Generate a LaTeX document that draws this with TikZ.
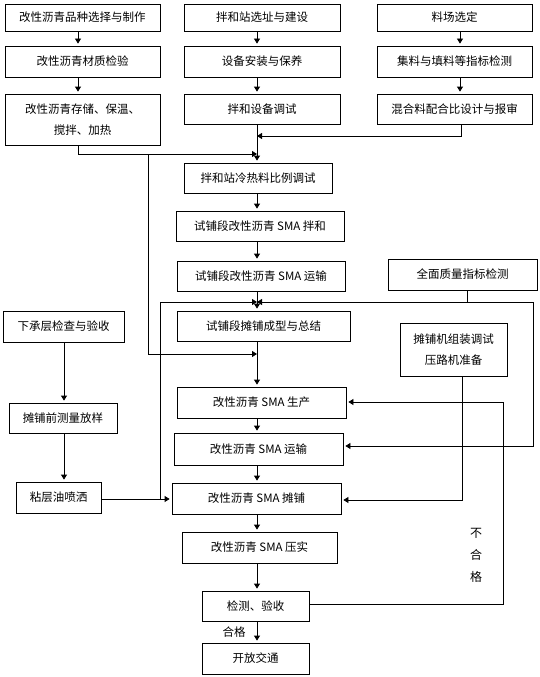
\documentclass[tikz,border=0pt]{standalone}
\usepackage{fontspec}
\newfontfamily\cjk{Noto Sans CJK SC}
\usetikzlibrary{arrows.meta}
\tikzset{
  x=1pt, y=-1pt,
  box/.style={draw, line width=0.8pt, inner sep=0pt, align=center,
    font=\cjk\fontsize{11.5}{21}\selectfont},
  lbl/.style={inner sep=0pt, align=center, font=\cjk\fontsize{11.5}{21}\selectfont},
  ln/.style={line width=0.8pt},
  arr/.style={line width=0.8pt, -{Triangle[length=5pt,width=6pt]}, shorten >=2pt},
  jarr/.style={line width=0.8pt, -{Triangle[length=5pt,width=6pt]}},
}
\newcommand\mybox[6]{\node[box, minimum width={(#4-#2)*1pt}, minimum height={(#5-#3)*1pt}] (#1) at ({(#2+#4)/2},{(#3+#5)/2}) {#6};}
\begin{document}
\begin{tikzpicture}
\useasboundingbox[fill=white] (0,0) rectangle (540,677);
% top rows
\mybox{A1}{5}{4}{160}{31}{改性沥青品种选择与制作}
\mybox{A2}{5}{46}{160}{77}{改性沥青材质检验}
\mybox{A3}{5}{94}{160}{145}{改性沥青存储、保温、\\搅拌、加热}
\mybox{B1}{184}{4}{340}{31}{拌和站选址与建设}
\mybox{B2}{184}{46}{340}{77}{设备安装与保养}
\mybox{B3}{184}{94}{340}{124}{拌和设备调试}
\mybox{C1}{377}{4}{532}{31}{料场选定}
\mybox{C2}{377}{46}{532}{77}{集料与填料等指标检测}
\mybox{C3}{377}{94}{532}{124}{混合料配合比设计与报审}
% trial section
\mybox{D1}{184}{163}{332}{193}{拌和站冷热料比例调试}
\mybox{D2}{176}{211}{344}{241}{试铺段改性沥青 SMA 拌和}
\mybox{D3}{177}{261}{345}{291}{试铺段改性沥青 SMA 运输}
\mybox{D4}{177}{311}{350}{341}{试铺段摊铺成型与总结}
\mybox{Q}{388}{259}{537}{290}{全面质量指标检测}
\mybox{P}{400}{323}{507}{376}{摊铺机组装调试\\压路机准备}
% left column
\mybox{L1}{3}{311}{124}{342}{下承层检查与验收}
\mybox{L2}{9}{403}{117}{433}{摊铺前测量放样}
\mybox{L3}{16}{482}{101}{513}{粘层油喷洒}
% production
\mybox{E1}{177}{387}{346}{418}{改性沥青 SMA 生产}
\mybox{E2}{174}{433}{343}{465}{改性沥青 SMA 运输}
\mybox{E3}{172}{483}{341}{514}{改性沥青 SMA 摊铺}
\mybox{E4}{182}{532}{337}{563}{改性沥青 SMA 压实}
\mybox{E5}{202}{591}{309}{621}{检测、验收}
\mybox{E6}{202}{643}{309}{674}{开放交通}
% labels
\node[lbl] (ok) at (234,632) {合格};
\node[lbl, font=\cjk\fontsize{12}{22}\selectfont] (nok) at (476,555) {不\\合\\格};
% junction coordinates
\coordinate (jC) at (257,136);
\coordinate (jA) at (257,154);
\coordinate (bA) at (148,154);
\coordinate (jS) at (257,354);
\coordinate (jQ) at (257,302);
\coordinate (qJ) at (467,302);
\coordinate (qR) at (533,446);
\coordinate (lT) at (160,302);
\coordinate (lB) at (160,499);
\coordinate (pB) at (462,500);
\coordinate (fB) at (503,604);
\coordinate (fT) at (503,402);
% column arrows
\draw[arr] (A1.south -| 78,0) -- (A2.north -| 78,0);
\draw[arr] (A2.south -| 78,0) -- (A3.north -| 78,0);
\draw[arr] (B1.south -| 257,0) -- (B2.north -| 257,0);
\draw[arr] (B2.south -| 257,0) -- (B3.north -| 257,0);
\draw[arr] (C1.south -| 460,0) -- (C2.north -| 460,0);
\draw[arr] (C2.south -| 460,0) -- (C3.north -| 460,0);
\draw[arr] (B3.south -| 257,0) -- (D1.north -| 257,0);
\draw[jarr] (C3.south -| 461,0) |- (jC);
\draw[jarr] (A3.south -| 78,0) |- (jA);
\draw[jarr] (bA) |- (jS);
\draw[arr] (D1.south -| 257,0) -- (D2.north -| 257,0);
\draw[arr] (D2.south -| 257,0) -- (D3.north -| 257,0);
\draw[arr] (D3.south -| 257,0) -- (D4.north -| 257,0);
\draw[arr] (D4.south -| 257,0) -- (E1.north -| 257,0);
\draw[arr] (E1.south -| 257,0) -- (E2.north -| 257,0);
\draw[arr] (E2.south -| 257,0) -- (E3.north -| 257,0);
\draw[arr] (E3.south -| 257,0) -- (E4.north -| 257,0);
\draw[arr] (E4.south -| 257,0) -- (E5.north -| 257,0);
\draw[arr] (E5.south -| 257,0) -- (E6.north -| 257,0);
\draw[arr] (L1.south -| 64,0) -- (L2.north -| 64,0);
\draw[arr] (L2.south -| 64,0) -- (L3.north -| 64,0);
% quality check lines
\draw[ln] (Q.south -| qJ) -- (qJ);
\draw[jarr] (qJ) -- (jQ);
\draw[arr] (qJ) -| (qR) -- (E2.east |- qR);
\draw[jarr] (lT) -- (jQ);
\draw[ln] (lT) -- (lB);
\draw[arr] (L3.east |- lB) -- (E3.west |- lB);
% paver line
\draw[arr] (P.south -| pB) -- (pB) -- (E3.east |- pB);
% feedback loop
\draw[arr] (E5.east |- fB) -- (fB) -- (fT) -- (E1.east |- fT);
\end{tikzpicture}
\end{document}
